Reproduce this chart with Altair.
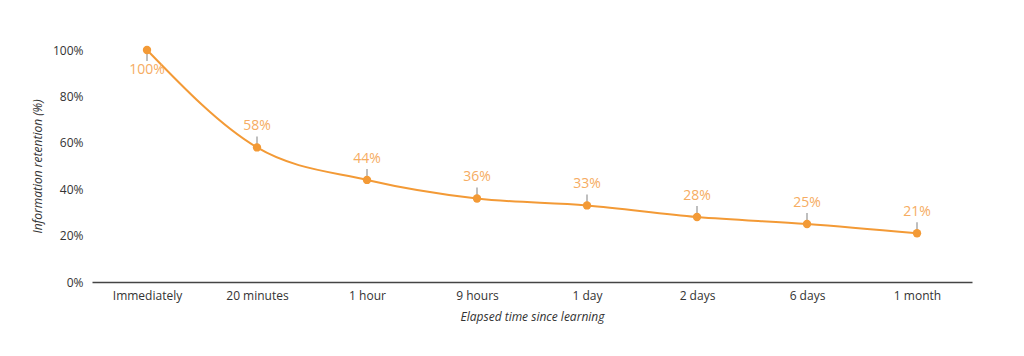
import altair as alt
import pandas as pd

categories = ["Immediately", "20 minutes", "1 hour", "9 hours", "1 day", "2 days", "6 days", "1 month"]
retention = [100, 58, 44, 36, 33, 28, 25, 21]

df = pd.DataFrame({"cat": categories, "val": retention, "idx": list(range(len(categories)))})
df["lab"] = df["val"].astype(str) + "%"

FONT = "Open Sans"
LINE = "#F39A36"
LABEL = "#F6AC62"

x = alt.X("cat:N", sort=categories, scale=alt.Scale(type="point", padding=0.5),
          axis=alt.Axis(title="Elapsed time since learning", labelAngle=0, ticks=False,
                        domainColor="#444", domainWidth=1.5, labelColor="#333", labelFontSize=12,
                        labelFont=FONT, labelPadding=8, titleFont=FONT, titleFontStyle="italic",
                        titleFontWeight="normal", titleFontSize=12, titleColor="#333", titlePadding=10))
y = alt.Y("val:Q", scale=alt.Scale(domain=[0, 100]),
          axis=alt.Axis(values=[0, 20, 40, 60, 80, 100], labelExpr="datum.value + '%'", grid=False,
                        domain=False, ticks=False, labelColor="#333", labelFontSize=12, labelFont=FONT,
                        labelPadding=9, title="Information retention (%)", titleFont=FONT,
                        titleFontStyle="italic", titleFontWeight="normal", titleFontSize=12,
                        titleColor="#333", titlePadding=8))

base = alt.Chart(df)
line = base.mark_line(color=LINE, strokeWidth=2, interpolate="monotone").encode(x=x, y=y)
pts = base.mark_circle(color=LINE, size=70, opacity=1).encode(x=x, y=y)
rule_up = base.transform_filter("datum.idx > 0").mark_rule(color="#aaa", strokeWidth=1.5, y2Offset=-11, yOffset=-3).encode(
    x=x, y=y, y2="val:Q")
rule_dn = base.transform_filter("datum.idx == 0").mark_rule(color="#aaa", strokeWidth=1.5, y2Offset=11, yOffset=3).encode(
    x=x, y=y, y2="val:Q")
txt_up = base.transform_filter("datum.idx > 0").mark_text(color=LABEL, font=FONT, fontSize=14, dy=-21).encode(
    x=x, y=y, text="lab:N")
txt_dn = base.transform_filter("datum.idx == 0").mark_text(color=LABEL, font=FONT, fontSize=14, dy=20).encode(
    x=x, y=y, text="lab:N")

chart = alt.layer(rule_up, rule_dn, line, pts, txt_up, txt_dn).properties(
    width=880, height=232,
    autosize=alt.AutoSizeParams(type="none"),
    padding={"left": 84, "top": 42, "right": 44, "bottom": 50},
).configure_view(stroke=None)

chart.save("out.html", embed_options={"renderer": "svg", "actions": False})
